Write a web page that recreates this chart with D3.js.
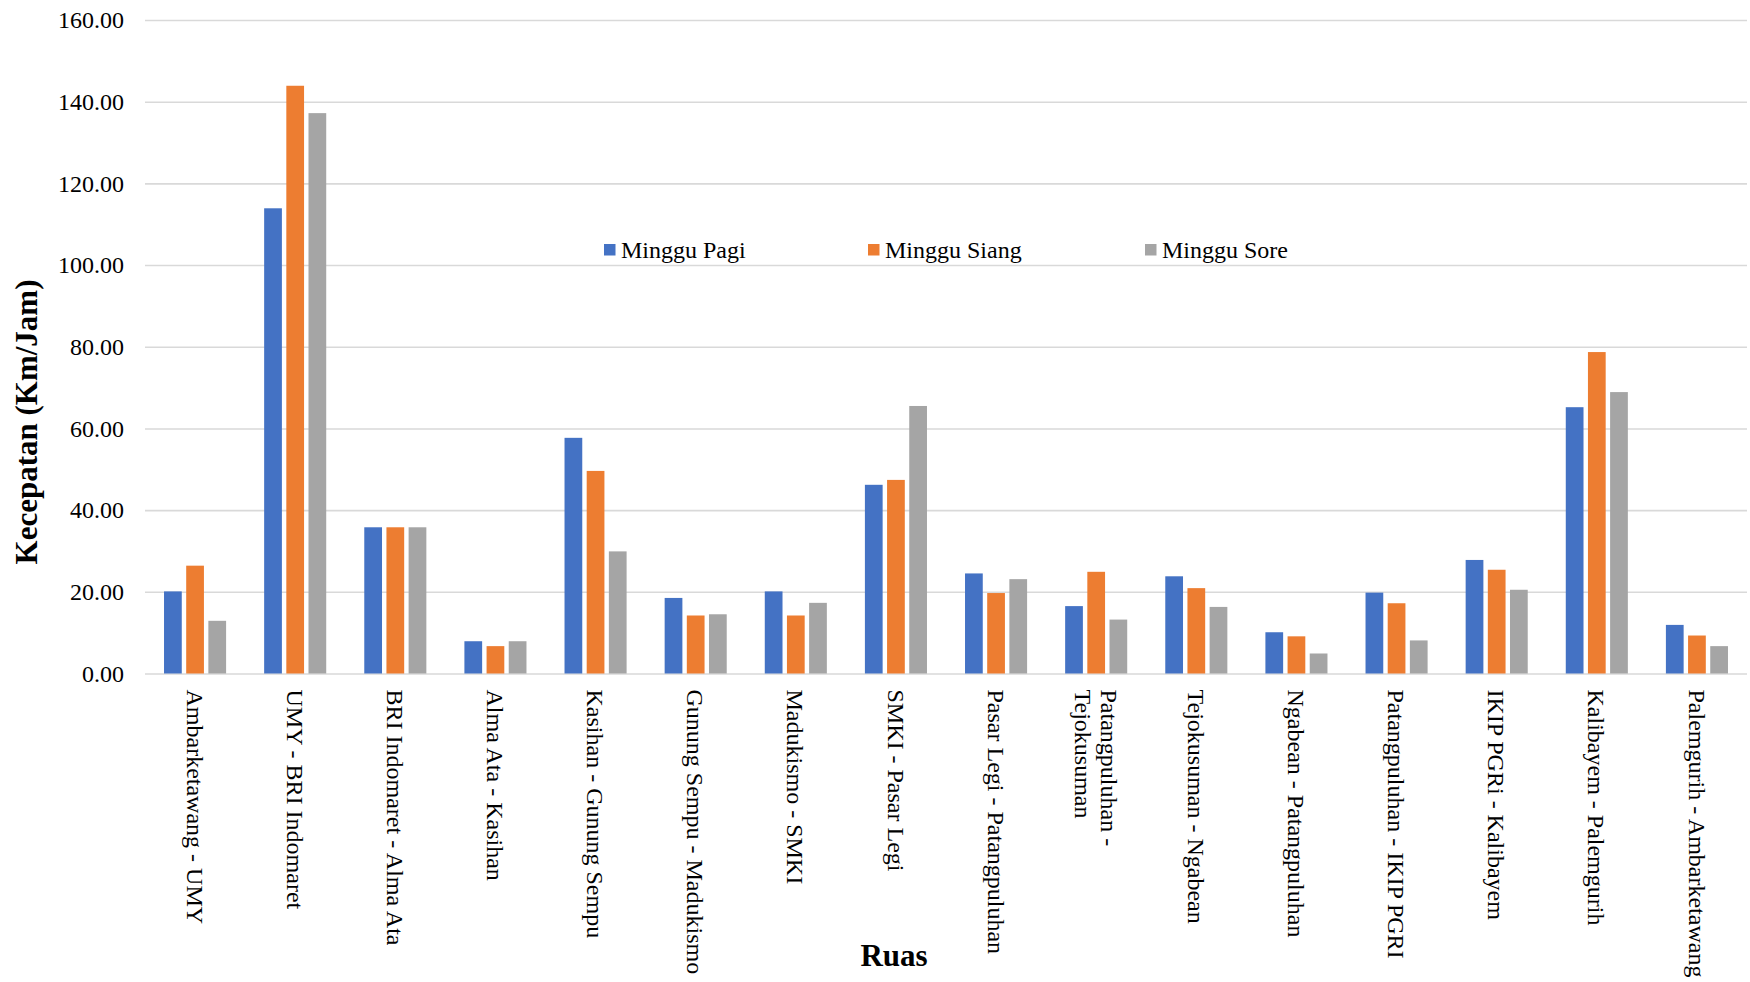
<!DOCTYPE html>
<html>
<head>
<meta charset="utf-8">
<script src="https://cdn.jsdelivr.net/npm/d3@7"></script>
<style>
  html, body { margin: 0; padding: 0; background: #fff; }
  svg { display: block; }
  svg text { font-family: "Liberation Serif", "Times New Roman", serif; }
</style>
</head>
<body>
<svg id="chart" width="1750" height="982"></svg>
<script>
// Road segments (ruas); "\n" marks a wrapped label line
const categories = [
  "Ambarketawang - UMY",
  "UMY - BRI Indomaret",
  "BRI Indomaret - Alma Ata",
  "Alma Ata - Kasihan",
  "Kasihan - Gunung Sempu",
  "Gunung Sempu - Madukismo",
  "Madukismo - SMKI",
  "SMKI - Pasar Legi",
  "Pasar Legi - Patangpuluhan",
  "Patangpuluhan -\nTejokusuman",
  "Tejokusuman - Ngabean",
  "Ngabean - Patangpuluhan",
  "Patangpuluhan - IKIP PGRI",
  "IKIP PGRi - Kalibayem",
  "Kalibayem - Palemgurih",
  "Palemgurih - Ambarketawang"
];

// Speed (km/h) per period
const minggu_pagi  = [20.1, 113.9, 35.8, 7.9, 57.7, 18.5, 20.1, 46.2, 24.5, 16.5, 23.8, 10.1, 19.8, 27.8, 65.2, 11.9];
const minggu_siang = [26.4, 143.9, 35.8, 6.7, 49.6, 14.2, 14.2, 47.4, 19.7, 24.9, 20.9, 9.1, 17.2, 25.4, 78.7, 9.3];
const minggu_sore  = [12.9, 137.2, 35.8, 7.9, 29.9, 14.5, 17.3, 65.5, 23.1, 13.2, 16.3, 4.9, 8.1, 20.5, 68.9, 6.7];

const seriesNames = ["Minggu Pagi", "Minggu Siang", "Minggu Sore"];
const seriesColors = ["#4472C4", "#ED7D31", "#A5A5A5"];
const yTicks = [0, 20, 40, 60, 80, 100, 120, 140, 160];

const seriesValues = [minggu_pagi, minggu_siang, minggu_sore];

const svg = d3.select("#chart");
const plot = { left: 145, right: 1747, top: 20, bottom: 673.5 };
const fontSize = 24;
const serif = "'Liberation Serif', 'Times New Roman', serif";

const x0 = d3.scaleBand()
  .domain(categories)
  .range([plot.left, plot.right])
  .paddingInner(0.38)
  .paddingOuter(0.19);

const x1 = d3.scaleBand()
  .domain(seriesNames)
  .range([0, x0.bandwidth()])
  .paddingInner(0.2);

const y = d3.scaleLinear()
  .domain([0, 160])
  .range([plot.bottom, plot.top]);

// Gridlines and value labels
const yAxis = svg.append("g")
  .attr("transform", `translate(${plot.left},0)`)
  .call(d3.axisLeft(y)
    .tickValues(yTicks)
    .tickSize(-(plot.right - plot.left))
    .tickPadding(21)
    .tickFormat(d3.format(".2f")))
  .attr("font-family", serif)
  .attr("font-size", fontSize);
yAxis.select(".domain").remove();
yAxis.selectAll(".tick line")
  .attr("stroke", "#d9d9d9")
  .attr("stroke-width", 1.6);
yAxis.selectAll(".tick text")
  .attr("fill", "#000");

// Bars
const rows = categories.map((c, i) => ({
  cat: c,
  vals: seriesNames.map((s, k) => ({ key: s, value: seriesValues[k][i], color: seriesColors[k] }))
}));

svg.append("g")
  .selectAll("g")
  .data(rows)
  .join("g")
  .attr("transform", d => `translate(${x0(d.cat)},0)`)
  .selectAll("rect")
  .data(d => d.vals)
  .join("rect")
  .attr("x", d => x1(d.key))
  .attr("width", x1.bandwidth())
  .attr("y", d => y(d.value))
  .attr("height", d => y(0) - y(d.value))
  .attr("fill", d => d.color);

// Category labels, rotated to read downward
const xAxis = svg.append("g")
  .attr("transform", `translate(0,${plot.bottom})`)
  .call(d3.axisBottom(x0).tickSize(0).tickFormat(""))
  .attr("font-family", serif)
  .attr("font-size", fontSize);
xAxis.select(".domain").remove();

const lineH = 26;
xAxis.selectAll(".tick").each(function(d) {
  const lines = d.split("\n");
  const t = d3.select(this).append("text")
    .attr("transform", "translate(0,16) rotate(90)")
    .attr("text-anchor", "start")
    .attr("fill", "#000");
  const offset = -(lines.length - 1) * lineH / 2;
  lines.forEach((ln, i) => {
    t.append("tspan")
      .attr("x", 0)
      .attr("y", 0)
      .attr("dy", offset + i * lineH + fontSize * 0.35)
      .text(ln);
  });
});

// Axis titles
svg.append("text")
  .attr("transform", "translate(37,422) rotate(-90)")
  .attr("text-anchor", "middle")
  .attr("font-size", 31)
  .attr("font-weight", "bold")
  .attr("fill", "#000")
  .text("Kecepatan (Km/Jam)");

svg.append("text")
  .attr("x", 894)
  .attr("y", 966)
  .attr("text-anchor", "middle")
  .attr("font-size", 31)
  .attr("font-weight", "bold")
  .attr("fill", "#000")
  .text("Ruas");

// Legend
const legendX = [604, 868, 1145];
const legend = svg.append("g")
  .selectAll("g")
  .data(seriesNames)
  .join("g")
  .attr("transform", (d, i) => `translate(${legendX[i]},244)`);
legend.append("rect")
  .attr("width", 11.5)
  .attr("height", 11.5)
  .attr("fill", (d, i) => seriesColors[i]);
legend.append("text")
  .attr("x", 17)
  .attr("y", 13.5)
  .attr("fill", "#000")
  .attr("font-size", fontSize)
  .text(d => d);
</script>
</body>
</html>
